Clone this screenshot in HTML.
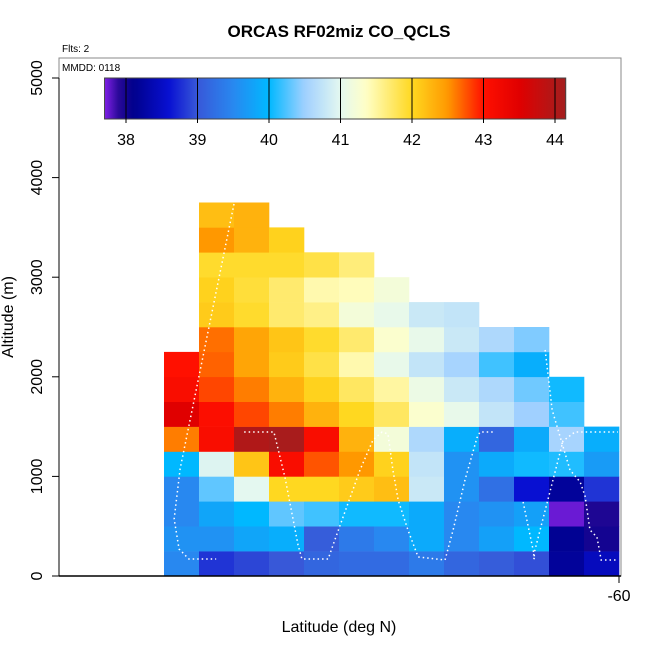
<!DOCTYPE html>
<html><head><meta charset="utf-8"><style>
body{margin:0;background:#fff;}
svg{display:block;font-family:"Liberation Sans",sans-serif;}
</style></head><body>
<svg id="c" width="650" height="650" xmlns="http://www.w3.org/2000/svg"></svg>
<script>
// ---- data ----
const latEdges = [-73,-72,-71,-70,-69,-68,-67,-66,-65,-64,-63,-62,-61];
const binHeight = 250;
const col0 = [39.5,39.6,39.5,39.5,40.0,42.6,43.5,43.1,43.0];
const col1 = [38.8,39.6,39.8,40.3,40.95,43.1,43.05,42.8,42.7,42.65,42.1,42.05,41.95,42.5,42.2];
const col2 = [38.9,39.8,40.0,41.0,42.15,44.0,42.8,42.6,42.4,42.4,41.95,41.9,41.95,42.3,42.3];
const col3 = [39.0,39.9,40.3,42.0,43.1,44.1,42.6,42.3,42.1,42.15,41.7,41.7,41.95,42.05];
const col4 = [39.15,39.05,40.2,42.0,42.75,43.1,42.3,42.05,41.85,41.95,41.6,41.45,41.85];
const col5 = [39.2,39.35,40.05,42.1,42.5,42.3,42.0,41.75,41.45,41.7,41.2,41.4,41.65];
const col6 = [39.2,39.5,40.05,42.2,42.05,41.2,41.75,41.5,41.05,41.3,41.05,41.2];
const col7 = [39.35,39.85,39.85,40.8,40.75,40.6,41.3,41.1,40.75,41.05,40.8];
const col8 = [39.15,39.5,39.5,39.6,39.6,39.9,41.05,40.8,40.55,40.8,40.75];
const col9 = [39.05,39.75,39.6,39.25,39.85,39.15,40.75,40.6,40.2,40.6];
const col10 = [38.95,40.0,39.75,38.6,40.05,39.85,40.5,40.35,39.9,40.4];
const col11 = [38.2,38.15,37.75,38.2,40.1,40.55,40.2,40.05];
const col12 = [38.45,38.0,37.95,38.8,39.7,39.9];
const columns = [col0,col1,col2,col3,col4,col5,col6,col7,col8,col9,col10,col11,col12];
const yTicks = [0,1000,2000,3000,4000,5000];
const xTicks = [-60];
const cbTicks = [38,39,40,41,42,43,44];
const trackLat = [
 [-71.0,-72.54,-72.71,-72.57,-72.29,-71.51],
 [-70.71,-69.86,-69.54,-69.17,-69.06,-68.31,-68.11,-67.4,-67.03,-66.77,-66.6,-66.46,-66.31,-66.03,-65.74,-64.97,-64.74,-64.4,-64.06,-63.97,-63.54],
 [-62.74,-62.4,-62.46,-61.6,-61.26,-60.91,-60.03],
 [-62.11,-61.91,-61.4,-61.11,-60.97,-60.83,-60.63,-60.51,-60.03]
];
const trackAlt = [
 [3735,1074,572,271,171,171],
 [1446,1446,984,311,171,171,371,1064,1365,1446,1426,1064,763,462,191,161,462,964,1386,1446,1446],
 [743,171,181,1355,1446,1446,1446],
 [2269,1667,1064,944,803,462,391,161,161]
];
// ---- scales ----
const X0=59,X1=621,Y0=576;
const latMin=-76, latMax=-59.943;
const xs = v => X0+(v-latMin)/(latMax-latMin)*(X1-X0);
const ys = v => Y0 - v*0.0996;
const cbx = v => 126 + (v-38)*71.5;
const stops=[[37.7,[128,32,232]],[37.9,[40,8,150]],[38.1,[0,0,140]],[38.6,[8,16,210]],[39.0,[56,88,216]],[39.5,[40,136,240]],[40.0,[0,184,255]],[40.5,[160,208,255]],[41.0,[228,248,240]],[41.35,[255,255,200]],[42.0,[255,216,32]],[42.5,[255,152,0]],[43.0,[255,16,0]],[43.5,[224,0,0]],[44.0,[176,24,24]],[44.2,[160,32,32]]];
function col(v){
 if(v<=stops[0][0]) return `rgb(${stops[0][1]})`;
 for(let i=1;i<stops.length;i++){ if(v<=stops[i][0]){const a=stops[i-1],b=stops[i],t=(v-a[0])/(b[0]-a[0]);return 'rgb('+a[1].map((c,k)=>Math.round(c+(b[1][k]-c)*t)).join(',')+')';}}
 return `rgb(${stops[stops.length-1][1]})`;
}
const svg=document.getElementById('c');const NS='http://www.w3.org/2000/svg';
function el(tag,attrs,parent){const e=document.createElementNS(NS,tag);for(const k in attrs)e.setAttribute(k,attrs[k]);(parent||svg).appendChild(e);return e;}
// cells
const g=el('g',{});


columns.forEach((vals,c)=>{vals.forEach((v,r)=>{
 const x=xs(latEdges[c]),w=xs(latEdges[c]+1)-x,yt=ys((r+1)*binHeight),yb=ys(r*binHeight);
 const rc=el('rect',{x:x,y:yt,width:w+0.3,height:yb-yt+0.3,fill:col(v)},g);
 
 
});});
// track
trackLat.forEach((lats,i)=>{
 const pts=lats.map((l,k)=>xs(l)+','+ys(trackAlt[i][k])).join(' ');
 const p=el('polyline',{points:pts,fill:'none',stroke:'#fff','stroke-width':1.5,'stroke-dasharray':'1.5 3'});
 
 
});
// frame
const fr=el('rect',{x:X0,y:58,width:X1-X0,height:Y0-58,fill:'none',stroke:'#888','stroke-width':1});


el('line',{x1:X0,y1:Y0,x2:X1,y2:Y0,stroke:'#000','stroke-width':1.5});
el('line',{x1:X0,y1:ys(0),x2:X0,y2:ys(5000),stroke:'#000'});
yTicks.forEach(t=>{
 el('line',{x1:X0-7,y1:ys(t),x2:X0,y2:ys(t),stroke:'#000'});
 const tx=el('text',{x:0,y:0,transform:`translate(42,${ys(t)}) rotate(-90)`,'text-anchor':'middle','font-size':16});
 tx.textContent=t;
 
 
});
xTicks.forEach(t=>{
 el('line',{x1:xs(t),y1:Y0,x2:xs(t),y2:Y0+7,stroke:'#000'});
 const tx=el('text',{x:xs(t),y:601,'text-anchor':'middle','font-size':16});
 tx.textContent=t;
 
 
});
// colorbar via gradient
const defs=el('defs',{});
const lg=el('linearGradient',{id:'cbg',x1:0,y1:0,x2:1,y2:0},defs);
const vMin=37.7,vMax=44.15;
for(let i=0;i<=100;i++){const v=vMin+(vMax-vMin)*i/100;el('stop',{offset:(i/100),'stop-color':col(v)},lg);}
const cbf=el('rect',{x:cbx(vMin),y:78,width:cbx(vMax)-cbx(vMin),height:41,fill:'url(#cbg)',stroke:'#444'});


cbTicks.forEach(t=>{
 el('line',{x1:cbx(t),y1:78,x2:cbx(t),y2:123,stroke:'#000'});
 const tx=el('text',{x:cbx(t),y:145,'text-anchor':'middle','font-size':16});
 tx.textContent=t;
 
 
});
</script>
<div style="position:absolute;left:0;top:0;width:650px;height:650px;pointer-events:none;">
<svg width="650" height="650" style="font-family:'Liberation Sans',sans-serif">
<text x="339" y="37" text-anchor="middle" font-size="17" font-weight="bold">ORCAS RF02miz CO_QCLS</text>
<text x="62" y="52" font-size="10">Flts: 2</text>
<text x="62" y="71" font-size="10">MMDD: 0118</text>
<text x="339" y="632" text-anchor="middle" font-size="16">Latitude (deg N)</text>
<text transform="translate(13,317) rotate(-90)" text-anchor="middle" font-size="16">Altitude (m)</text>
</svg></div>
</body></html>
